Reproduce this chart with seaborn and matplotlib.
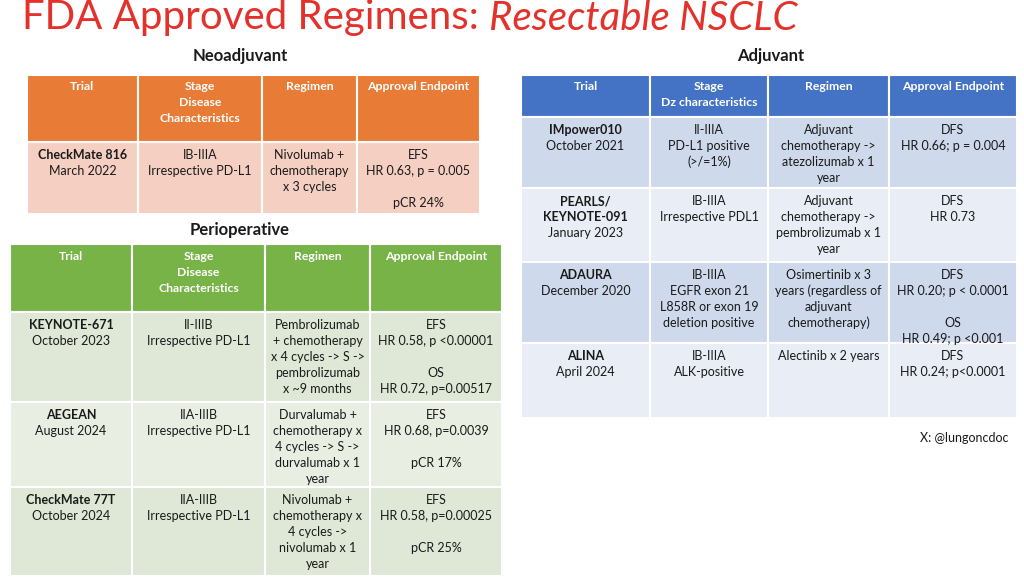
import matplotlib.pyplot as plt
import seaborn as sns
from matplotlib.patches import Rectangle

sns.set_theme(style="white")
plt.rcParams["font.family"] = "Lato"

# ---- data ----
neo_headers = ["Trial", "Stage\nDisease\nCharacteristics", "Regimen", "Approval Endpoint"]
neo_rows = [
    ["CheckMate 816\nMarch 2022", "IB-IIIA\nIrrespective PD-L1",
     "Nivolumab +\nchemotherapy\nx 3 cycles", "EFS\nHR 0.63, p = 0.005\n\npCR 24%"],
]

peri_headers = ["Trial", "Stage\nDisease\nCharacteristics", "Regimen", "Approval Endpoint"]
peri_rows = [
    ["KEYNOTE-671\nOctober 2023", "II-IIIB\nIrrespective PD-L1",
     "Pembrolizumab\n+ chemotherapy\nx 4 cycles -> S ->\npembrolizumab\nx ~9 months",
     "EFS\nHR 0.58, p <0.00001\n\nOS\nHR 0.72, p=0.00517"],
    ["AEGEAN\nAugust 2024", "IIA-IIIB\nIrrespective PD-L1",
     "Durvalumab +\nchemotherapy x\n4 cycles -> S ->\ndurvalumab x 1\nyear",
     "EFS\nHR 0.68, p=0.0039\n\npCR 17%"],
    ["CheckMate 77T\nOctober 2024", "IIA-IIIB\nIrrespective PD-L1",
     "Nivolumab +\nchemotherapy x\n4 cycles ->\nnivolumab x 1\nyear",
     "EFS\nHR 0.58, p=0.00025\n\npCR 25%"],
]

adj_headers = ["Trial", "Stage\nDz characteristics", "Regimen", "Approval Endpoint"]
adj_rows = [
    ["IMpower010\nOctober 2021", "II-IIIA\nPD-L1 positive\n(>/=1%)",
     "Adjuvant\nchemotherapy ->\natezolizumab x 1\nyear", "DFS\nHR 0.66; p = 0.004"],
    ["PEARLS/\nKEYNOTE-091\nJanuary 2023", "IB-IIIA\nIrrespective PDL1",
     "Adjuvant\nchemotherapy ->\npembrolizumab x 1\nyear", "DFS\nHR 0.73"],
    ["ADAURA\nDecember 2020", "IB-IIIA\nEGFR exon 21\nL858R or exon 19\ndeletion positive",
     "Osimertinib x 3\nyears (regardless of\nadjuvant\nchemotherapy)",
     "DFS\nHR 0.20; p < 0.0001\n\nOS\nHR 0.49; p <0.001"],
    ["ALINA\nApril 2024", "IB-IIIA\nALK-positive", "Alectinib x 2 years",
     "DFS\nHR 0.24; p<0.0001"],
]

fig = plt.figure(figsize=(10.24, 5.8), dpi=100)
ax = fig.add_axes([0, 0, 1, 1])
ax.set_xlim(0, 1024)
ax.set_ylim(580, 0)
ax.axis("off")

LH = 16  # line height in px


def draw_table(cols, rows_y, headers, rows, head_color, body_colors, bold_lines):
    # header
    for i in range(len(cols) - 1):
        x0, x1 = cols[i], cols[i + 1]
        y0, y1 = rows_y[0], rows_y[1]
        ax.add_patch(Rectangle((x0, y0), x1 - x0, y1 - y0, fc=head_color, ec="white", lw=1.5))
        for k, line in enumerate(headers[i].split("\n")):
            ax.text((x0 + x1) / 2, y0 + 12 + k * LH, line, ha="center", va="center",
                    color="white", fontsize=8.8, fontweight="bold")
    for r, row in enumerate(rows):
        y0, y1 = rows_y[r + 1], rows_y[r + 2]
        for i in range(len(cols) - 1):
            x0, x1 = cols[i], cols[i + 1]
            ax.add_patch(Rectangle((x0, y0), x1 - x0, y1 - y0,
                                   fc=body_colors[r % len(body_colors)], ec="white", lw=1.5))
            lines = row[i].split("\n")
            nb = bold_lines[r] if i == 0 else 0
            for k, line in enumerate(lines):
                ax.text((x0 + x1) / 2, y0 + 13 + k * LH, line, ha="center", va="center",
                        color="#1a1a1a", fontsize=9,
                        fontweight="bold" if k < nb else "normal")


# title
t1 = ax.text(22, 18, "FDA Approved Regimens: ", fontsize=29, color="#e4312b", va="center")
fig.canvas.draw()
bb = t1.get_window_extent()
ax.text(22 + bb.width, 18, "Resectable NSCLC", fontsize=29, color="#e4312b",
        va="center", style="italic")

ax.text(240, 56, "Neoadjuvant", ha="center", va="center", fontsize=12, fontweight="bold", color="#1a1a1a")
ax.text(240, 230, "Perioperative", ha="center", va="center", fontsize=12, fontweight="bold", color="#1a1a1a")
ax.text(771, 56, "Adjuvant", ha="center", va="center", fontsize=12, fontweight="bold", color="#1a1a1a")

draw_table([27, 138, 262, 357, 480], [75, 142, 214], neo_headers, neo_rows,
           "#e87b36", ["#f5d0c2"], [1])
draw_table([10, 132, 265, 370, 502], [244, 312, 402, 487, 576], peri_headers, peri_rows,
           "#78b348", ["#dfe7d7", "#e9eee3"], [1, 1, 1])
draw_table([521, 650, 768, 889, 1017], [75, 117, 188, 262, 343, 418], adj_headers, adj_rows,
           "#4472c4", ["#cfd9ec", "#e8edf6"], [1, 2, 1, 1])

ax.text(920, 438, "X: @lungoncdoc", ha="left", va="center", fontsize=9, color="#1a1a1a")

fig.savefig("out.png", dpi=100)
